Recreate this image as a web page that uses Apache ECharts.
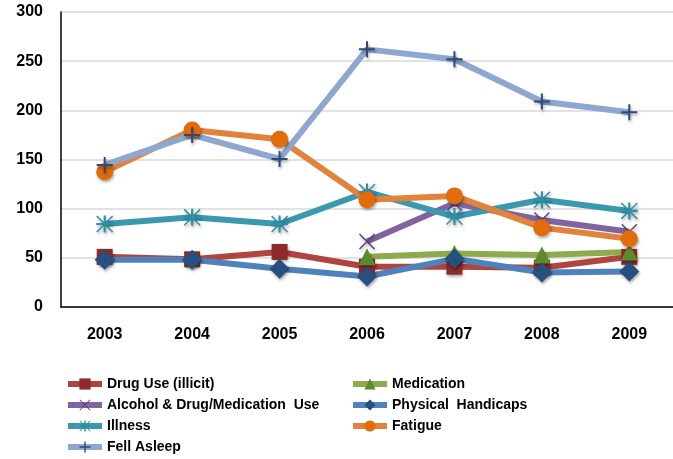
<!DOCTYPE html>
<html><head><meta charset="utf-8">
<script src="https://cdn.jsdelivr.net/npm/echarts@6/dist/echarts.min.js"></script>
<style>html,body{margin:0;padding:0;background:#fff}#c{width:673px;height:459px}</style>
</head><body><div id="c"></div>
<script>
const years = ['2003','2004','2005','2006','2007','2008','2009'];
const drugUse = [51, 48.5, 56, 41, 41, 40, 51];
const medication = [null, null, null, 51, 54.5, 53, 56];
const alcohol = [null, null, null, 66.5, 105.5, 88.5, 76.6];
const physical = [48, 48, 39, 31, 49, 35, 36];
const illness = [84.4, 91.2, 84.4, 117, 92, 109, 97.7];
const fatigue = [137.6, 180, 170.6, 109, 113, 80.7, 69.5];
const fellAsleep = [144.5, 175, 150.5, 262, 252, 209, 198];
const yTicks = [0, 50, 100, 150, 200, 250, 300];

const PLUS = 'path://M7,0h2v16h-2zM0,7h16v2h-16z';
const XMARK = 'path://M0,1L1,0L16,15L15,16ZM15,0L16,1L1,16L0,15Z';
const STAR = 'path://M7,0h2v16h-2zM0,7h16v2h-16zM0,1L1,0L16,15L15,16ZM15,0L16,1L1,16L0,15Z';

function mk(name, data, lineColor, markColor, symbol, size) {
  return {
    name, type: 'line', data, symbol, symbolSize: size,
    connectNulls: false,
    lineStyle: { color: lineColor, width: 6 },
    itemStyle: { color: markColor, borderWidth: 0, shadowBlur: 3, shadowColor: 'rgba(0,0,0,0.35)', shadowOffsetX: 1, shadowOffsetY: 2 },
    emphasis: { disabled: true },
    animation: false
  };
}
const series = [
  mk('Drug Use (illicit)', drugUse, '#b0443f', '#8e2b29', 'rect', 16),
  mk('Medication', medication, '#8dab4c', '#5c8a2e', 'triangle', 17),
  mk('Alcohol & Drug/Medication  Use', alcohol, '#8064a2', '#5a3e7c', XMARK, 16),
  mk('Physical  Handicaps', physical, '#4f81bd', '#25507f', 'diamond', 20),
  mk('Illness', illness, '#3b98ad', '#2f8fa3', STAR, 17),
  mk('Fatigue', fatigue, '#e3823a', '#e26b0a', 'circle', 17),
  mk('Fell Asleep', fellAsleep, '#8ea7cf', '#2e4a7c', PLUS, 16)
];
const legendText = { fontFamily: 'Liberation Sans, sans-serif', fontWeight: 'bold', fontSize: 14, color: '#000' };
const legendBase = { orient: 'vertical', top: 377, padding: 0, height: 90, itemWidth: 34, itemHeight: 14, itemGap: 7,
  textStyle: legendText, selectedMode: false, lineStyle: { width: 6 }, itemStyle: { shadowBlur: 0 } };
const chart = echarts.init(document.getElementById('c'));
chart.setOption({
  animation: false,
  grid: { left: 61, top: 12, bottom: 152, right: -8 },
  xAxis: {
    type: 'category', data: years, boundaryGap: true,
    axisLine: { lineStyle: { color: '#000', width: 1.5 } },
    axisTick: { alignWithLabel: true, length: 5, lineStyle: { color: '#000' } },
    axisLabel: { color: '#000', fontWeight: 'bold', fontSize: 16, fontFamily: 'Liberation Sans', margin: 20 }
  },
  yAxis: {
    type: 'value', min: 0, max: 300, interval: 50,
    axisLine: { show: true, lineStyle: { color: '#000', width: 1.5 } },
    axisTick: { show: false },
    splitLine: { lineStyle: { color: '#d9d9d9', width: 1.5 } },
    axisLabel: { color: '#000', fontWeight: 'bold', fontSize: 16, fontFamily: 'Liberation Sans', margin: 18,
      formatter: v => yTicks.includes(v) ? String(v) : '' }
  },
  legend: [
    Object.assign({ data: ['Drug Use (illicit)', 'Alcohol & Drug/Medication  Use', 'Illness', 'Fell Asleep'], left: 65 }, legendBase),
    Object.assign({ data: ['Medication', 'Physical  Handicaps', 'Fatigue'], left: 350 }, legendBase)
  ],
  series
});
</script></body></html>
